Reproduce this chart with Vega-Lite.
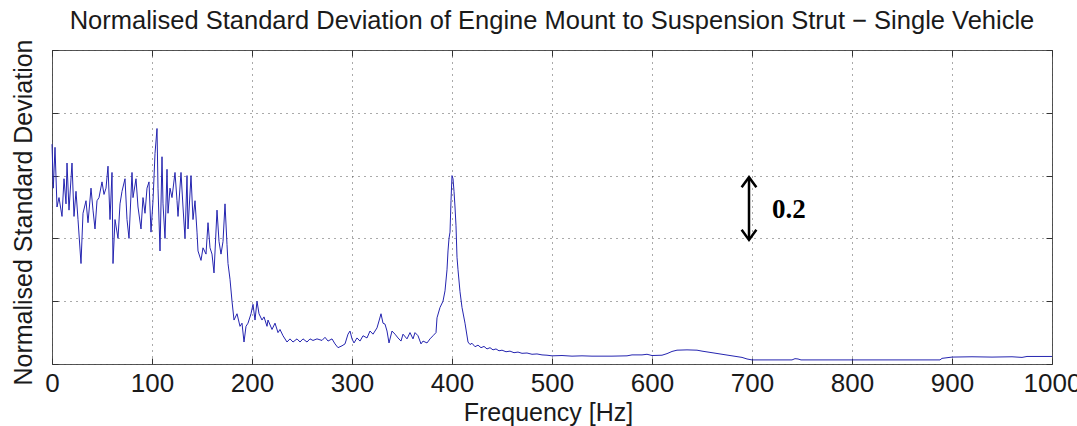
{
  "$schema": "https://vega.github.io/schema/vega-lite/v6.json",
  "width": 1000,
  "height": 314,
  "autosize": {"type": "none"},
  "padding": {"left": 52, "top": 50, "right": 25, "bottom": 62},
  "background": "white",
  "config": {
    "view": {"stroke": "#555", "strokeWidth": 1},
    "font": "Liberation Sans",
    "axis": {
      "domain": false,
      "tickColor": "#333",
      "tickSize": -6,
      "gridColor": "#444",
      "gridDash": [1, 5],
      "gridOpacity": 0.9,
      "labelFont": "Liberation Sans",
      "labelFontSize": 26,
      "labelColor": "#1a1a1a",
      "titleFont": "Liberation Sans",
      "titleFontSize": 25,
      "titleFontWeight": "normal",
      "titleColor": "#1a1a1a"
    }
  },
  "title": {
    "text": "Normalised Standard Deviation of Engine Mount to Suspension Strut − Single Vehicle",
    "font": "Liberation Sans",
    "fontSize": 25.5,
    "fontWeight": "normal",
    "color": "#1a1a1a",
    "anchor": "middle",
    "baseline": "alphabetic",
    "offset": 11,
    "dy": 27
  },
  "datasets": {
    "spec": [
      {"f":0,"v":0.70},{"f":1.3,"v":0.56},{"f":3,"v":0.69},{"f":5,"v":0.50},{"f":7,"v":0.53},{"f":10,"v":0.47},{"f":12,"v":0.59},{"f":14,"v":0.51},{"f":15,"v":0.64},{"f":17,"v":0.49},{"f":20,"v":0.64},{"f":22,"v":0.47},{"f":24,"v":0.55},{"f":26,"v":0.46},{"f":29,"v":0.32},{"f":31,"v":0.48},{"f":34,"v":0.52},{"f":36,"v":0.45},{"f":39,"v":0.56},{"f":41,"v":0.49},{"f":43,"v":0.43},{"f":45,"v":0.52},{"f":47,"v":0.53},{"f":50,"v":0.58},{"f":52,"v":0.54},{"f":54,"v":0.56},{"f":56,"v":0.63},{"f":58,"v":0.46},{"f":60,"v":0.61},{"f":61,"v":0.32},{"f":63,"v":0.46},{"f":66,"v":0.40},{"f":68,"v":0.51},{"f":70,"v":0.55},{"f":73,"v":0.59},{"f":75,"v":0.46},{"f":77,"v":0.40},{"f":80,"v":0.61},{"f":81,"v":0.53},{"f":84,"v":0.59},{"f":86,"v":0.50},{"f":89,"v":0.43},{"f":91,"v":0.53},{"f":93,"v":0.48},{"f":95,"v":0.56},
      {"f":97,"v":0.58},{"f":99,"v":0.42},{"f":101,"v":0.52},{"f":103,"v":0.67},{"f":105,"v":0.75},{"f":106,"v":0.56},{"f":108,"v":0.36},{"f":110,"v":0.66},{"f":111,"v":0.51},{"f":113,"v":0.40},{"f":115,"v":0.62},{"f":116,"v":0.48},{"f":118,"v":0.56},{"f":120,"v":0.53},{"f":123,"v":0.61},{"f":125,"v":0.52},{"f":126,"v":0.47},{"f":129,"v":0.61},{"f":131,"v":0.50},{"f":133,"v":0.40},{"f":135,"v":0.60},{"f":136,"v":0.43},{"f":139,"v":0.60},{"f":141,"v":0.46},{"f":143,"v":0.52},{"f":145,"v":0.42},{"f":146,"v":0.36},{"f":149,"v":0.33},{"f":151,"v":0.37},{"f":154,"v":0.35},{"f":156,"v":0.45},{"f":158,"v":0.37},{"f":160,"v":0.35},{"f":162,"v":0.29},{"f":165,"v":0.49},{"f":167,"v":0.39},{"f":169,"v":0.35},{"f":171,"v":0.39},{"f":173,"v":0.51},{"f":175,"v":0.38},{"f":176,"v":0.32},{"f":178,"v":0.27},{"f":180,"v":0.20},
      {"f":182,"v":0.14},{"f":185,"v":0.16},{"f":188,"v":0.12},{"f":190,"v":0.13},{"f":192,"v":0.07},{"f":194,"v":0.12},{"f":196,"v":0.13},{"f":199,"v":0.16},{"f":201,"v":0.19},{"f":203,"v":0.14},{"f":205,"v":0.20},{"f":207,"v":0.16},{"f":210,"v":0.14},{"f":212,"v":0.15},{"f":215,"v":0.12},{"f":216,"v":0.14},{"f":220,"v":0.11},{"f":223,"v":0.13},{"f":226,"v":0.10},{"f":228,"v":0.11},{"f":231,"v":0.09},{"f":235,"v":0.07},{"f":238,"v":0.08},{"f":241,"v":0.07},{"f":245,"v":0.08},{"f":248,"v":0.07},{"f":251,"v":0.08},{"f":255,"v":0.07},{"f":258,"v":0.08},{"f":261,"v":0.075},{"f":265,"v":0.08},{"f":270,"v":0.075},{"f":273,"v":0.085},{"f":276,"v":0.073},{"f":280,"v":0.08},{"f":283,"v":0.064},{"f":286,"v":0.052},{"f":290,"v":0.058},{"f":293,"v":0.064},{"f":296,"v":0.095},{"f":298,"v":0.105},{"f":300,"v":0.08},
      {"f":302,"v":0.067},{"f":305,"v":0.083},{"f":308,"v":0.073},{"f":311,"v":0.09},{"f":315,"v":0.083},{"f":318,"v":0.105},{"f":321,"v":0.095},{"f":325,"v":0.115},{"f":327,"v":0.137},{"f":329,"v":0.16},{"f":331,"v":0.13},{"f":333,"v":0.127},{"f":335,"v":0.105},{"f":337,"v":0.067},{"f":340,"v":0.105},{"f":343,"v":0.095},{"f":346,"v":0.083},{"f":349,"v":0.073},{"f":351,"v":0.095},{"f":355,"v":0.08},{"f":358,"v":0.1},{"f":361,"v":0.08},{"f":363,"v":0.1},{"f":366,"v":0.09},{"f":369,"v":0.064},{"f":371,"v":0.073},{"f":375,"v":0.067},{"f":378,"v":0.08},{"f":381,"v":0.09},{"f":384,"v":0.1},{"f":385,"v":0.147},{"f":388,"v":0.18},{"f":391,"v":0.20},{"f":393,"v":0.233},
      {"f":395,"v":0.30},{"f":396,"v":0.36},{"f":397,"v":0.40},{"f":398,"v":0.42},{"f":399,"v":0.52},{"f":400,"v":0.60},{"f":401,"v":0.59},{"f":402,"v":0.55},{"f":403,"v":0.50},{"f":404,"v":0.44},{"f":405,"v":0.34},{"f":406,"v":0.30},{"f":408,"v":0.23},{"f":410,"v":0.18},{"f":413,"v":0.13},{"f":416,"v":0.07},
      {"f":418,"v":0.062},{"f":420,"v":0.066},{"f":423,"v":0.055},{"f":426,"v":0.06},{"f":429,"v":0.052},{"f":432,"v":0.056},{"f":435,"v":0.048},{"f":438,"v":0.052},{"f":441,"v":0.045},{"f":444,"v":0.048},{"f":447,"v":0.042},{"f":450,"v":0.044},{"f":454,"v":0.039},{"f":458,"v":0.041},{"f":462,"v":0.036},{"f":466,"v":0.038},{"f":470,"v":0.034},{"f":475,"v":0.035},{"f":480,"v":0.031},{"f":485,"v":0.032},{"f":490,"v":0.029},{"f":495,"v":0.028},{"f":500,"v":0.026},{"f":510,"v":0.027},{"f":520,"v":0.025},{"f":530,"v":0.026},{"f":540,"v":0.025},{"f":560,"v":0.025},{"f":575,"v":0.026},{"f":580,"v":0.029},{"f":590,"v":0.029},{"f":595,"v":0.031},{"f":600,"v":0.027},{"f":610,"v":0.028},{"f":615,"v":0.033},{"f":620,"v":0.04},{"f":625,"v":0.044},{"f":635,"v":0.045},{"f":645,"v":0.044},{"f":650,"v":0.041},{"f":660,"v":0.036},{"f":670,"v":0.031},{"f":680,"v":0.026},{"f":690,"v":0.021},{"f":695,"v":0.016},{"f":700,"v":0.013},{"f":740,"v":0.013},{"f":743,"v":0.017},{"f":746,"v":0.016},{"f":749,"v":0.013},{"f":800,"v":0.013},{"f":850,"v":0.013},{"f":888,"v":0.013},{"f":890,"v":0.018},{"f":895,"v":0.02},{"f":900,"v":0.022},{"f":920,"v":0.023},{"f":940,"v":0.022},{"f":960,"v":0.023},{"f":970,"v":0.021},{"f":975,"v":0.024},{"f":1000,"v":0.024}
    ],
    "arrow": [{"f": 697, "y1": 0.4, "y2": 0.59}],
    "heads": [{"f": 697, "y": 0.595, "dir": "up"}, {"f": 697, "y": 0.395, "dir": "down"}],
    "label": [{"f": 720, "y": 0.49, "t": "0.2"}]
  },
  "layer": [
    {
      "data": {"name": "spec"},
      "mark": {"type": "line", "color": "#2525b0", "strokeWidth": 1},
      "encoding": {
        "x": {"field": "f", "type": "quantitative",
              "scale": {"domain": [0, 1000], "nice": false, "zero": false},
              "axis": {"orient": "bottom", "values": [0,100,200,300,400,500,600,700,800,900,1000], "format": "d", "grid": true, "labelPadding": 12, "labelFlush": false, "labelOverlap": false,
                       "title": "Frequency [Hz]", "titleX": 496, "titleY": 56, "titleBaseline": "alphabetic", "titleAlign": "center"}},
        "y": {"field": "v", "type": "quantitative",
              "scale": {"domain": [0, 1], "nice": false},
              "axis": {"orient": "left", "values": [0,0.2,0.4,0.6,0.8,1], "grid": true, "labels": false,
                       "title": "Normalised Standard Deviation", "titleX": -21, "titleY": 162, "titleAngle": -90, "titleBaseline": "alphabetic", "titleAlign": "center"}}
      }
    },
    {
      "data": {"name": "arrow"},
      "mark": {"type": "rule", "color": "black", "strokeWidth": 2.5},
      "encoding": {
        "x": {"field": "f", "type": "quantitative", "axis": {"orient": "top", "values": [0,100,200,300,400,500,600,700,800,900,1000], "labels": false, "grid": false, "title": null}},
        "y": {"field": "y1", "type": "quantitative", "axis": {"orient": "right", "values": [0,0.2,0.4,0.6,0.8,1], "labels": false, "grid": false, "title": null}},
        "y2": {"field": "y2"}
      }
    },
    {
      "data": {"name": "heads"},
      "mark": {"type": "point", "filled": false, "color": "black", "strokeWidth": 2.5, "opacity": 1, "size": 340},
      "encoding": {
        "x": {"field": "f", "type": "quantitative", "axis": null},
        "y": {"field": "y", "type": "quantitative", "axis": null},
        "shape": {"field": "dir", "type": "nominal", "legend": null,
                  "scale": {"domain": ["up", "down"], "range": ["M-0.8,1.1L0,0L0.8,1.1", "M-0.8,-1.1L0,0L0.8,-1.1"]}}
      }
    },
    {
      "data": {"name": "label"},
      "mark": {"type": "text", "font": "Liberation Serif", "fontWeight": "bold", "fontSize": 27, "align": "left", "baseline": "middle", "color": "black"},
      "encoding": {
        "x": {"field": "f", "type": "quantitative", "axis": null},
        "y": {"field": "y", "type": "quantitative", "axis": null},
        "text": {"field": "t"}
      }
    }
  ],
  "resolve": {"axis": {"x": "independent", "y": "independent"}}
}
